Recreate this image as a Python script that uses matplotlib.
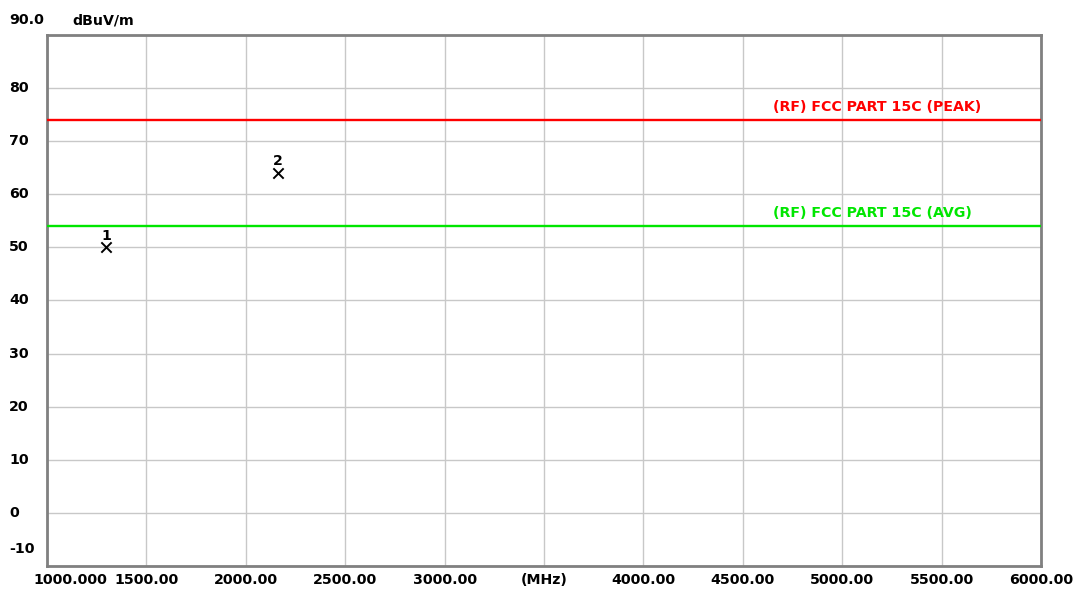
import matplotlib

matplotlib.use("Agg")
import matplotlib.pyplot as plt
from matplotlib.transforms import blended_transform_factory

# data
freq_mhz = [1297.0, 2162.0]
level_dbuv = [50.0, 64.0]
marker_ids = ["1", "2"]

limit_names = ["(RF) FCC PART 15C (PEAK)", "(RF) FCC PART 15C (AVG)"]
limit_values = [74.0, 54.0]
limit_colors = ["#ff0000", "#00e600"]

x_ticks = [1000, 1500, 2000, 2500, 3000, 3500, 4000, 4500, 5000, 5500, 6000]
x_labels = ["1000.000", "1500.00", "2000.00", "2500.00", "3000.00", "(MHz)",
            "4000.00", "4500.00", "5000.00", "5500.00", "6000.00"]
y_ticks = [-10, 0, 10, 20, 30, 40, 50, 60, 70, 80, 90]
y_labels = ["-10", "0", "10", "20", "30", "40", "50", "60", "70", "80", "90.0"]

FONT = dict(family="DejaVu Sans", weight="bold", size=10.2)

fig = plt.figure(figsize=(10.81, 5.97), dpi=100)
fig.patch.set_facecolor("white")
ax = fig.add_axes([47 / 1081, 31 / 597, 994 / 1081, 531 / 597])
ax.set_xlim(1000, 6000)
ax.set_ylim(-10, 90)

for x in x_ticks:
    ax.axvline(x, color="#c8c8c8", lw=1.0, zorder=1)
for y in y_ticks:
    ax.axhline(y, color="#c8c8c8", lw=1.0, zorder=1)

for name, val, col in zip(limit_names, limit_values, limit_colors):
    ax.axhline(val, color=col, lw=1.7, zorder=3)
    ax.text(4652, val + 1.1, name, color=col, ha="left", va="bottom", **FONT)

ax.scatter(freq_mhz, level_dbuv, marker="x", s=55, color="black", linewidths=1.4, zorder=5)
for f, v, k in zip(freq_mhz, level_dbuv, marker_ids):
    ax.text(f, v + 0.9, k, ha="center", va="bottom", color="black", **FONT)

ax.set_xticks([])
ax.set_yticks([])
for spine in ax.spines.values():
    spine.set_color("#808080")
    spine.set_linewidth(2.0)

# tick labels placed by hand like the analyser printout
for i, (x, lab) in enumerate(zip(x_ticks, x_labels)):
    if i == 0:
        ax.text(930, -11.3, lab, ha="left", va="top", color="black", clip_on=False, **FONT)
    else:
        ax.text(x, -11.3, lab, ha="center", va="top", color="black", clip_on=False, **FONT)

ylab_trans = blended_transform_factory(fig.transFigure, ax.transData)
for y, lab in zip(y_ticks, y_labels):
    yy = y
    if y == 90:
        yy = 92.8
    elif y == -10:
        yy = -6.8
    ax.text(9 / 1081, yy, lab, ha="left", va="center", color="black",
            transform=ylab_trans, clip_on=False, **FONT)
ax.text(1130, 92.8, "dBuV/m", ha="left", va="center", color="black", clip_on=False, **FONT)

fig.savefig("out.png", dpi=100)
plt.close(fig)
